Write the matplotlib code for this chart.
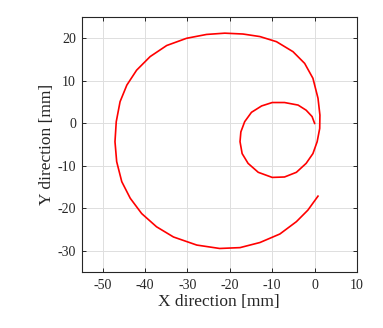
import numpy as np
import matplotlib
matplotlib.use("Agg")
import matplotlib.pyplot as plt

# spiral trajectory, from the centre outwards [mm]
x_mm = [0.0, -0.6, -2.0, -3.9, -7.1, -10.0, -12.5, -14.9, -16.5, -17.4,
        -17.6, -17.1, -15.7, -13.3, -10.0, -7.1, -4.3, -2.0, -0.4, 0.6,
        1.2, 1.25, 0.8, -0.4, -2.35, -5.1, -9.0, -12.9, -16.9, -21.2,
        -25.5, -30.2, -34.9, -38.8, -42.0, -44.3, -45.9, -46.8, -47.1, -46.7,
        -45.5, -43.5, -40.8, -37.3, -33.3, -27.8, -22.4, -17.6, -12.9, -8.2,
        -4.3, -1.6, 0.8]
y_mm = [0.0, 1.6, 3.1, 4.3, 4.9, 4.9, 4.1, 2.6, 0.4, -2.0,
        -4.3, -7.1, -9.4, -11.5, -12.7, -12.6, -11.5, -9.4, -7.1, -4.3,
        -1.2, 1.95, 5.9, 10.6, 14.1, 16.85, 19.2, 20.4, 21.0, 21.2,
        20.9, 20.0, 18.3, 15.7, 12.5, 9.0, 5.1, 0.4, -4.3, -9.0,
        -13.7, -17.6, -21.2, -24.3, -26.7, -28.6, -29.4, -29.2, -28.0, -26.0,
        -23.1, -20.4, -17.1]

xticks = [-50, -40, -30, -20, -10, 0, 10]
yticks = [-30, -20, -10, 0, 10, 20]

plt.rcParams['font.family'] = ['Liberation Serif', 'DejaVu Serif']
plt.rcParams['axes.unicode_minus'] = False

fig = plt.figure(figsize=(3.83, 3.28), dpi=100)
ax = fig.add_axes([81.5 / 383, (328 - 272.3) / 328, 275.5 / 383, 255.3 / 328])

ax.plot(x_mm, y_mm, color='#ff0000', lw=1.2, solid_joinstyle='round')

ax.set_xlim(-55, 10)
ax.set_ylim(-35, 25)
ax.set_xticks(xticks)
ax.set_yticks(yticks)
ax.grid(True, color='#dedede', lw=0.7)
ax.set_axisbelow(True)

for s in ax.spines.values():
    s.set_color('#262626')
    s.set_linewidth(0.8)
ax.tick_params(direction='in', top=True, right=True, length=3, width=0.7,
               colors='#262626', labelsize=10)
ax.tick_params(axis='x', pad=5)
ax.tick_params(axis='y', pad=4)

ax.set_xlabel('X direction [mm]', fontsize=12.5, color='#262626', labelpad=1)
ax.set_ylabel('Y direction [mm]', fontsize=12.5, color='#262626', labelpad=2)

fig.savefig('out.png', dpi=100)
